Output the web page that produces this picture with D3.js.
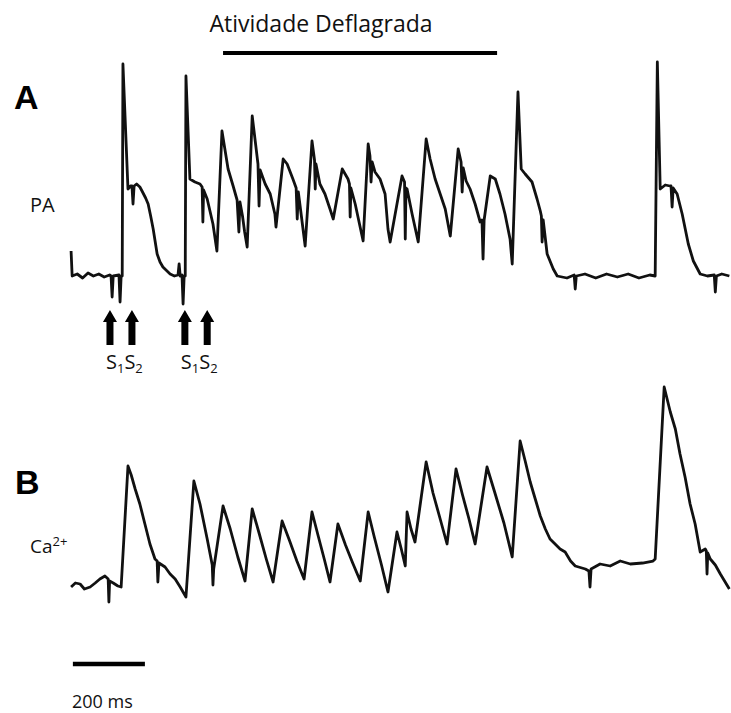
<!DOCTYPE html>
<html><head><meta charset="utf-8">
<script src="https://cdn.jsdelivr.net/npm/d3@7"></script>
<style>body{margin:0;background:#fff}svg{display:block}</style>
</head><body>
<svg id="c" width="731" height="713"></svg>
<script>
// ---- Data (time in ms, amplitude in normalized units: baseline 0, ~100 = peak) ----
const apTrace = [
[3,12.5],[6,0],[20,1],[35,-1],[50,1.5],[65,0],[80,1],[95,-0.5],[110,0.5],
[114,0],[117,-10.5],[120,0],[136,0.5],[139,-13],[142,0],[145,0],[147,106],
[161,43.5],[168,45],[172,45],[175,36],[178,45],[185,46],[194,44.5],[200,42.5],[210,39],[217,36],[224,30],[231,23.5],[242,11],[250,7],[258,4.5],[278,1],
[290,0],[300,0.5],[303,6],[306,0],[311,0.5],[314,-14],[317,0],[320,0],[322,100],
[333,48.5],[347,47],[361,46],[367,44.5],[369,27],[371,43],[381,38.5],[397,26],[408,12.5],
[422,72.5],[439,53.5],[453,45],[464,38],[469,22],[472,37],[479,30],[485,22],[492,14.5],
[506,80],[522,56],[525,35],[528,53],[542,46],[556,41],[569,31],[572,24.5],
[592,58.5],[603,56],[619,48.5],[628,44],[631,28.5],[634,42],[639,35],[653,15],
[672,67.5],[679,58],[681,43.5],[683,56],[694,46],[708,41],[722,33.5],[731,28.5],
[756,53.5],[764,51],[772,48.5],[776,46],[778,29.5],[780,44],[792,36],[814,17.5],
[828,66],[833,60],[836,47],[839,57],[847,52],[861,48.5],[875,41],[883,23.5],[889,17],
[922,50],[929,47],[931,18.5],[933,44],[936,43.5],[950,31],[967,17],
[989,68.5],[1000,58.5],[1014,48.5],[1028,41],[1042,33.5],[1056,20],
[1078,63.5],[1086,57],[1089,42],[1092,54],[1100,47.5],[1111,43.5],[1125,36],[1139,27],[1144,28],[1147,8.5],[1150,28],
[1167,50],[1181,48.5],[1194,41],[1208,31],[1222,18.5],[1228,6],
[1244,92],[1253,53.5],[1264,51],[1283,47],[1297,38.5],[1306,32.5],[1309,30],[1311,17],[1314,28],[1325,11],[1342,3.5],[1353,0],
[1380,-1],[1400,0.5],[1403,-6.5],[1406,0],[1430,1],[1460,-1],[1490,1],[1520,-0.5],[1550,1],[1580,-1],[1610,0.5],[1625,0],
[1631,107],[1639,43.5],[1653,45.5],[1666,45],[1669,45],[1672,34.5],[1675,44],[1686,41],[1700,31],[1717,16],[1731,7.5],[1750,1],
[1770,0],[1789,0.5],[1792,-8],[1795,0],[1810,1],[1831,0]
];
const caTrace = [
[3,1],[15,3],[28,2.5],[40,0],[56,1],[70,3],[83,5],[97,6.5],[106,5],[108,-6.5],[110,4],[120,3],[133,1.5],[142,1],
[161,61.5],[170,57],[181,50],[194,42.5],[208,32.5],[222,22.5],[236,15],[242,14],[244,3.5],[247,13],[264,11],[278,7.5],[292,5],[306,1],[322,-4],
[344,54],[361,42.5],[381,25],[395,12],[397,2],[399,10],
[425,41.5],[445,30],[466,16],[486,4],
[506,40],[525,28],[545,15],[564,3.5],
[589,34],[610,24],[630,14],[650,5],
[672,38.5],[690,26],[706,15],[722,3.5],
[744,32.5],[765,22],[785,13],[806,4],
[828,38.5],[845,26],[865,12],[883,-1.5],
[908,28.5],[920,20],[931,11.5],
[936,38.5],[947,30],[958,23.5],
[989,63.5],[1008,48],[1028,35],[1047,22.5],
[1072,60],[1090,47],[1108,35],[1125,22.5],
[1158,61],[1180,48],[1205,33],[1228,16],
[1250,74],[1264,64],[1278,53.5],[1292,45],[1306,36.5],[1320,30],[1333,25],[1347,22.5],[1361,20],[1375,18.5],[1390,14],[1403,11.5],[1431,10],[1441,9],[1444,1],[1447,10],[1472,12.5],[1500,11.5],[1528,14],[1556,12.5],[1590,13],[1619,14],[1625,15],
[1650,101],[1667,88.5],[1681,80],[1694,67.5],[1708,56],[1722,42.5],[1736,32.5],[1750,18.5],[1764,20],[1767,19],[1769,7.5],[1771,18],[1778,15],[1792,12],[1806,7.5],[1831,0]
];
const stimTimes = [111, 172, 319, 381];          // S1, S2, S1, S2 (ms)
const stimNames = ["1", "2"];
const burstWindow = [425, 1186];                 // ms
const burstLabel = "Atividade Deflagrada";
const scaleBar = {start: 8, length: 200, label: "200 ms"};
const panelLabels = ["A", "B"];
const traceLabels = ["PA", "Ca"];

// ---- Scales ----
const svg = d3.select("#c");
const x = d3.scaleLinear().domain([0, 1830]).range([70, 729]);
const yAP = d3.scaleLinear().domain([0, 100]).range([276, 76]);
const yCa = d3.scaleLinear().domain([0, 100]).range([589, 389]);
const font = "'Open Sans', 'Noto Sans', sans-serif";

const lineAP = d3.line().x(d => x(d[0])).y(d => yAP(d[1]));
const lineCa = d3.line().x(d => x(d[0])).y(d => yCa(d[1]));

svg.append("path").datum(apTrace).attr("d", lineAP)
  .attr("fill", "none").attr("stroke", "#111").attr("stroke-width", 2.8)
  .attr("stroke-linejoin", "round");
svg.append("path").datum(caTrace).attr("d", lineCa)
  .attr("fill", "none").attr("stroke", "#111").attr("stroke-width", 2.8)
  .attr("stroke-linejoin", "round");

// Burst bar and label
svg.append("line").attr("x1", x(burstWindow[0])).attr("x2", x(burstWindow[1]))
  .attr("y1", 53).attr("y2", 53).attr("stroke", "#000").attr("stroke-width", 4);
svg.append("text").attr("x", 321).attr("y", 32).attr("text-anchor", "middle")
  .attr("font-family", font).attr("font-size", 23).attr("fill", "#111").text(burstLabel);

// Panel labels
svg.append("text").attr("x", 14).attr("y", 109).attr("font-family", "'Liberation Sans', Arial, sans-serif")
  .attr("font-weight", "bold").attr("font-size", 34).attr("fill", "#000").text(panelLabels[0]);
svg.append("text").attr("x", 15).attr("y", 494).attr("font-family", "'Liberation Sans', Arial, sans-serif")
  .attr("font-weight", "bold").attr("font-size", 34).attr("fill", "#000").text(panelLabels[1]);

svg.append("text").attr("x", 30).attr("y", 212).attr("font-family", font)
  .attr("font-size", 20).attr("fill", "#111").text(traceLabels[0]);
const ca = svg.append("text").attr("x", 30).attr("y", 553).attr("font-family", font)
  .attr("font-size", 19).attr("fill", "#111");
ca.append("tspan").text(traceLabels[1]);
ca.append("tspan").attr("font-size", 13).attr("dy", -7).text("2+");

// Stimulus arrows
const arrowG = svg.append("g");
stimTimes.forEach(t => {
  const cx = x(t);
  arrowG.append("path")
    .attr("d", `M${cx-3.5},345 L${cx-3.5},322 L${cx-7},322 L${cx},310 L${cx+7},322 L${cx+3.5},322 L${cx+3.5},345 Z`)
    .attr("fill", "#000");
});
// S1S2 labels
for (let i = 0; i < stimTimes.length; i += 2) {
  const tx = svg.append("text").attr("x", x(stimTimes[i]) - 4).attr("y", 369)
    .attr("font-family", font).attr("font-size", 20).attr("fill", "#111");
  tx.append("tspan").text("S");
  tx.append("tspan").attr("font-size", 13).attr("dy", 4).text(stimNames[0]);
  tx.append("tspan").attr("font-size", 20).attr("dy", -4).text("S");
  tx.append("tspan").attr("font-size", 13).attr("dy", 4).text(stimNames[1]);
}

// Scale bar
svg.append("line").attr("x1", x(scaleBar.start)).attr("x2", x(scaleBar.start + scaleBar.length))
  .attr("y1", 664).attr("y2", 664).attr("stroke", "#000").attr("stroke-width", 4.5);
svg.append("text").attr("x", 72).attr("y", 708).attr("font-family", font)
  .attr("font-size", 18).attr("fill", "#111").text(scaleBar.label);
</script>
</body></html>
